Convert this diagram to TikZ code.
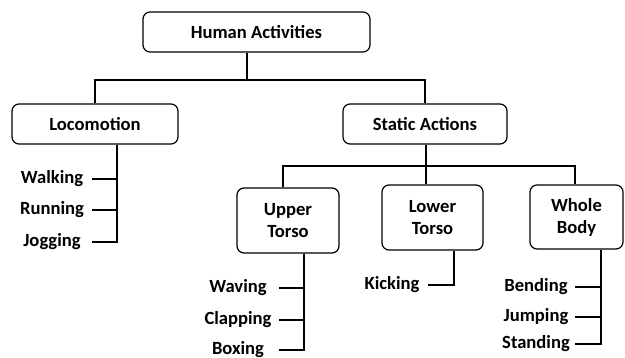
\documentclass[tikz,border=0pt]{standalone}
\usepackage{fontspec}
\setmainfont{Carlito}
\usetikzlibrary{positioning}

\tikzset{
  catbox/.style={draw, line width=1.2pt, rounded corners=7pt, align=center,
    inner sep=0pt, font=\bfseries\fontsize{18.6}{22}\selectfont},
  leaf/.style={inner sep=0pt, minimum width=80pt, font=\bfseries\fontsize{18.6}{22}\selectfont},
  link/.style={line width=1.3pt}
}

\begin{document}
\begin{tikzpicture}[x=1pt,y=-1pt]
    \useasboundingbox (0,0) rectangle (625,357);
    % Root
    \node[catbox, minimum width=227pt, minimum height=40pt] (ha) at (256.5,32) {Human Activities};
    % Main categories
    \node[catbox, minimum width=166pt, minimum height=40pt] (loc) at (95,124) {Locomotion};
    \node[catbox, minimum width=164pt, minimum height=40pt] (sa) at (425,124) {Static Actions};
    % Body parts
    \node[catbox, minimum width=102pt, minimum height=65pt] (ut) at (288,220.5) {Upper\\Torso};
    \node[catbox, minimum width=101pt, minimum height=65pt] (lt) at (432.5,217.5) {Lower\\Torso};
    \node[catbox, minimum width=93pt, minimum height=64pt] (wb) at (576.5,217) {Whole\\Body};
    % Junctions
    \coordinate (hasplit) at (247,80);
    \coordinate (sasplit) at (426,166);
    \coordinate (utin) at (283,166);
    \coordinate (wbin) at (575,166);
    \draw[link] (ha.south -| hasplit) -- (hasplit);
    \draw[link] (loc.north) -- (loc.north |- hasplit) -- (sa.north |- hasplit) -- (sa.north);
    \draw[link] (sa.south -| sasplit) -- (sasplit) -- (lt.north -| sasplit);
    \draw[link] (ut.north -| utin) -- (utin) -- (wbin) -- (wb.north -| wbin);
    % Locomotion leaves
    \coordinate (locspine) at (117,0);
    \node[leaf] (walk) at (52,179) {Walking};
    \node[leaf] (run) at (52,210) {Running};
    \node[leaf] (jog) at (52,242) {Jogging};
    \draw[link] (loc.south -| locspine) -- (jog -| locspine) -- (jog);
    \draw[link] (walk) -- (walk -| locspine);
    \draw[link] (run) -- (run -| locspine);
    % Upper torso leaves
    \coordinate (utspine) at (304,0);
    \node[leaf, minimum width=82pt] (wave) at (238,288) {Waving};
    \node[leaf, minimum width=82pt] (clap) at (238,320) {Clapping};
    \node[leaf, minimum width=82pt] (box) at (238,350) {Boxing};
    \draw[link] (ut.south -| utspine) -- (box -| utspine) -- (box);
    \draw[link] (wave) -- (wave -| utspine);
    \draw[link] (clap) -- (clap -| utspine);
    % Lower torso leaves
    \coordinate (ltspine) at (454,0);
    \node[leaf, minimum width=72pt] (kick) at (392,285) {Kicking};
    \draw[link] (lt.south -| ltspine) -- (kick -| ltspine) -- (kick);
    % Whole body leaves
    \coordinate (wbspine) at (601,0);
    \node[leaf, minimum width=78pt] (bend) at (536,287) {Bending};
    \node[leaf, minimum width=78pt] (jump) at (536,317) {Jumping};
    \node[leaf, minimum width=78pt] (stand) at (536,344) {Standing};
    \draw[link] (wb.south -| wbspine) -- (stand -| wbspine) -- (stand);
    \draw[link] (bend) -- (bend -| wbspine);
    \draw[link] (jump) -- (jump -| wbspine);
\end{tikzpicture}
\end{document}
